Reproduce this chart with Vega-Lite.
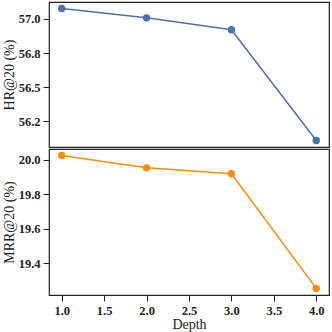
{
  "$schema": "https://vega.github.io/schema/vega-lite/v6.json",
  "padding": {"left": 1, "top": 1, "right": 1, "bottom": 0},
  "background": "white",
  "spacing": 0,
  "datasets": {
    "d": [
      {"depth": 1, "hr": 57.075, "mrr": 20.023},
      {"depth": 2, "hr": 57.007, "mrr": 19.952},
      {"depth": 3, "hr": 56.92, "mrr": 19.918},
      {"depth": 4, "hr": 56.11, "mrr": 19.255}
    ]
  },
  "config": {
    "font": "Liberation Serif",
    "view": {"stroke": "#222222", "strokeWidth": 1.2},
    "axis": {
      "grid": false,
      "domain": false,
      "tickColor": "#222222",
      "tickSize": 6,
      "tickWidth": 1,
      "labelPadding": 3,
      "labelFont": "Liberation Serif",
      "labelFontSize": 12.5,
      "labelFontWeight": "bold",
      "labelColor": "#222222",
      "titleFont": "Liberation Serif",
      "titleFontSize": 14,
      "titleFontWeight": "normal",
      "titleColor": "#222222",
      "titlePadding": 2
    }
  },
  "vconcat": [
    {
      "width": 280,
      "height": 145,
      "data": {"name": "d"},
      "encoding": {
        "x": {"field": "depth", "type": "quantitative", "scale": {"domain": [0.85, 4.15], "nice": false, "zero": false}, "axis": null},
        "y": {"field": "hr", "type": "quantitative", "scale": {"domain": [56.063, 57.123], "nice": false, "zero": false},
          "axis": {"title": "HR@20 (%)", "labelOverlap": false, "values": [56.25, 56.5, 56.75, 57.0], "labelExpr": "datum.value == 56.25 ? '56.2' : format(datum.value, '.1f')"}}
      },
      "layer": [
        {"mark": {"type": "line", "color": "#4c72b0", "strokeWidth": 1.5}},
        {"mark": {"type": "point", "filled": true, "color": "#4c72b0", "size": 55, "opacity": 1}}
      ]
    },
    {
      "width": 280,
      "height": 146,
      "data": {"name": "d"},
      "encoding": {
        "x": {"field": "depth", "type": "quantitative", "scale": {"domain": [0.85, 4.15], "nice": false, "zero": false},
          "axis": {"title": "Depth", "titlePadding": 1, "tickCount": 7, "labelOverlap": false, "labelFlush": false, "format": ".1f"}},
        "y": {"field": "mrr", "type": "quantitative", "scale": {"domain": [19.217, 20.061], "nice": false, "zero": false},
          "axis": {"title": "MRR@20 (%)", "labelOverlap": false, "values": [19.4, 19.6, 19.8, 20.0], "format": ".1f"}}
      },
      "layer": [
        {"mark": {"type": "line", "color": "#ff8c0a", "strokeWidth": 1.5}},
        {"mark": {"type": "point", "filled": true, "color": "#ff8c0a", "size": 55, "opacity": 1}}
      ]
    }
  ]
}
